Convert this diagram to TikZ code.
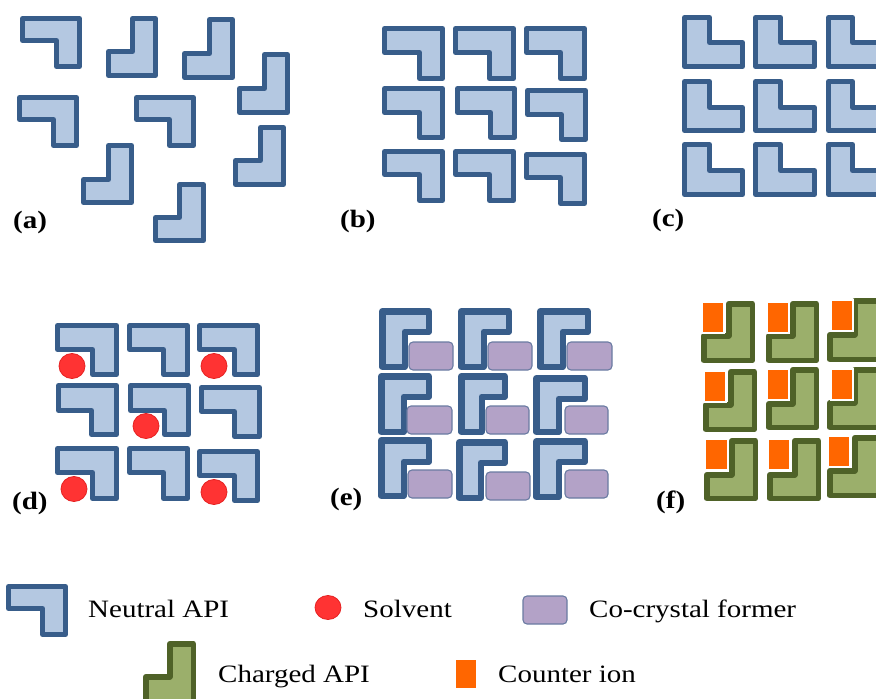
\documentclass[tikz,border=0pt]{standalone}
\usepackage{fontspec}
\setmainfont{Liberation Serif}[FakeStretch=1.16]

\definecolor{apiFill}{HTML}{B4C8E1}
\definecolor{apiLine}{HTML}{385D8A}
\definecolor{chgFill}{HTML}{9BAF6B}
\definecolor{chgLine}{HTML}{4F6228}
\definecolor{ccfFill}{HTML}{B3A2C7}
\definecolor{ccfLine}{HTML}{6A7BA2}
\definecolor{solvFill}{HTML}{FF3333}
\definecolor{solvLine}{HTML}{E52222}
\definecolor{ionFill}{HTML}{FF6600}

% Hook-shaped molecules given by their outer box (x1,y1)-(x2,y2) and the
% outer corner (xi,yi) of the notch; \hw is half the outline width.
% notch at bottom-left
\newcommand\hookN[7]{\filldraw[#1] ({#2+\hw},{#3+\hw}) -- ({#4-\hw},{#3+\hw}) -- ({#4-\hw},{#5-\hw}) -- ({#6+\hw},{#5-\hw}) -- ({#6+\hw},{#7-\hw}) -- ({#2+\hw},{#7-\hw}) -- cycle;}
% notch at top-left
\newcommand\hookJ[7]{\filldraw[#1] ({#6+\hw},{#3+\hw}) -- ({#4-\hw},{#3+\hw}) -- ({#4-\hw},{#5-\hw}) -- ({#2+\hw},{#5-\hw}) -- ({#2+\hw},{#7+\hw}) -- ({#6+\hw},{#7+\hw}) -- cycle;}
% notch at top-right
\newcommand\hookL[7]{\filldraw[#1] ({#2+\hw},{#3+\hw}) -- ({#6-\hw},{#3+\hw}) -- ({#6-\hw},{#7+\hw}) -- ({#4-\hw},{#7+\hw}) -- ({#4-\hw},{#5-\hw}) -- ({#2+\hw},{#5-\hw}) -- cycle;}
% notch at bottom-right
\newcommand\hookG[7]{\filldraw[#1] ({#2+\hw},{#3+\hw}) -- ({#4-\hw},{#3+\hw}) -- ({#4-\hw},{#7-\hw}) -- ({#6-\hw},{#7-\hw}) -- ({#6-\hw},{#5-\hw}) -- ({#2+\hw},{#5-\hw}) -- cycle;}

\tikzset{
  neutral/.style={fill=apiFill, draw=apiLine, line join=round},
  charged/.style={fill=chgFill, draw=chgLine, line join=round},
  former/.style={fill=ccfFill, draw=ccfLine, line width=1.1pt, rounded corners=4pt},
  solvent/.style={fill=solvFill, draw=solvLine, line width=0.8pt},
  counterion/.style={fill=ionFill, draw=white, line width=1.6pt},
  panellabel/.style={font=\fontsize{25}{30}\selectfont\bfseries, inner sep=0pt, anchor=base west},
  legendtext/.style={font=\fontsize{25}{30}\selectfont, inner sep=0pt, anchor=base west},
}

\begin{document}
\begin{tikzpicture}[x=1pt, y=-1pt]
\useasboundingbox (0,0) rectangle (876,699);
\clip (0,0) rectangle (876,699);

% (a) disordered neutral molecules
\begin{scope}[line width=5pt]
\def\hw{2.5}
\hookN{neutral}{20}{16}{82}{69}{54}{43}
\hookJ{neutral}{106}{16}{158}{78}{130}{49}
\hookJ{neutral}{182}{17}{235}{80}{207}{51}
\hookJ{neutral}{237}{52}{290}{115}{262}{86}
\hookN{neutral}{17}{95}{79}{148}{51}{122}
\hookN{neutral}{134}{95}{196}{148}{167}{122}
\hookJ{neutral}{81}{143}{134}{205}{106}{177}
\hookJ{neutral}{233}{125}{286}{187}{258}{158}
\hookJ{neutral}{153}{182}{206}{243}{177}{215}
\end{scope}
\node[panellabel] (la) at (13,228) {(a)};

% (b) crystal form I
\begin{scope}[line width=5pt]
\def\hw{2.5}
\hookN{neutral}{382}{26}{445}{81}{417}{55}
\hookN{neutral}{453}{26}{516}{81}{487}{55}
\hookN{neutral}{524}{26}{587}{81}{558}{55}
\hookN{neutral}{382}{86}{445}{140}{417}{115}
\hookN{neutral}{455}{86}{517}{140}{488}{115}
\hookN{neutral}{525}{88}{588}{142}{559}{117}
\hookN{neutral}{382}{149}{445}{203}{417}{177}
\hookN{neutral}{453}{149}{516}{203}{487}{177}
\hookN{neutral}{524}{152}{587}{206}{558}{180}
\end{scope}
\node[panellabel] (lb) at (340,227) {(b)};

% (c) crystal form II
\begin{scope}[line width=5pt]
\def\hw{2.5}
\foreach \ya/\yi/\yb in {15/40/69, 79/105/133, 142/168/197}{
  \foreach \xa/\xi/\xb in {682/712/745, 753/783/817, 826/855/889}{
    \hookL{neutral}{\xa}{\ya}{\xb}{\yb}{\xi}{\yi}
  }
}
\end{scope}
\node[panellabel] (lc) at (652,226) {(c)};

% (d) solvate
\begin{scope}[line width=5pt]
\def\hw{2.5}
\hookN{neutral}{55}{323}{119}{377}{90}{352}
\hookN{neutral}{127}{323}{190}{377}{161}{352}
\hookN{neutral}{197}{323}{260}{377}{232}{352}
\hookN{neutral}{56}{383}{119}{437}{89}{413}
\hookN{neutral}{128}{383}{191}{437}{162}{413}
\hookN{neutral}{199}{385}{262}{439}{232}{414}
\hookN{neutral}{55}{446}{119}{501}{90}{475}
\hookN{neutral}{127}{446}{190}{501}{161}{475}
\hookN{neutral}{197}{449}{260}{503}{232}{478}
\end{scope}
\foreach \cx/\cy in {72/366, 214/366, 146/426, 74/489, 214/492}
  \filldraw[solvent] (\cx,\cy) ellipse [x radius=13, y radius=12.5];
\node[panellabel] (ld) at (12,509) {(d)};

% (e) co-crystal
\begin{scope}[line width=6.5pt]
\def\hw{3.25}
\hookG{neutral}{379}{308}{432}{370}{408}{335}
\hookG{neutral}{458}{308}{512}{370}{487}{335}
\hookG{neutral}{537}{308}{591}{370}{566}{335}
\hookG{neutral}{378}{373}{432}{435}{407}{400}
\hookG{neutral}{458}{373}{508}{435}{485}{400}
\hookG{neutral}{533}{375}{588}{435}{562}{402}
\hookG{neutral}{378}{437}{432}{499}{407}{465}
\hookG{neutral}{456}{439}{508}{501}{484}{466}
\hookG{neutral}{533}{438}{588}{500}{562}{465}
\end{scope}
\foreach \xa/\ya/\xb/\yb in {409/342/453/370, 488/342/532/370, 567/342/612/370,
    407/406/452/434, 486/406/529/434, 565/406/608/434,
    408/470/452/498, 486/472/530/500, 565/470/608/498}
  \filldraw[former] (\xa,\ya) rectangle (\xb,\yb);
\node[panellabel] (le) at (330,505) {(e)};

% (f) salt
\begin{scope}[line width=5.5pt]
\def\hw{2.75}
\hookJ{charged}{701}{301}{755}{363}{726}{333}
\hookJ{charged}{766}{301}{819}{363}{790}{333}
\hookJ{charged}{827}{298}{890}{362}{852}{332}
\hookJ{charged}{703}{369}{757}{432}{728}{402}
\hookJ{charged}{766}{367}{819}{430}{790}{401}
\hookJ{charged}{827}{367}{890}{430}{852}{400}
\hookJ{charged}{704}{438}{758}{501}{729}{472}
\hookJ{charged}{767}{438}{821}{501}{792}{472}
\hookJ{charged}{827}{435}{890}{498}{852}{468}
\end{scope}
\foreach \xa/\ya/\xb/\yb in {702/302/724/333, 767/302/789/333, 831/300/853/331,
    704/371/726/402, 767/369/789/400, 831/369/853/400,
    705/439/728/470, 768/439/790/470, 828/436/850/467}
  \filldraw[counterion] (\xa,\ya) rectangle (\xb,\yb);
\node[panellabel] (lf) at (656,508) {(f)};

% legend
\begin{scope}[line width=5pt]
\def\hw{2.5}
\hookN{neutral}{6}{584}{68}{637}{40}{611}
\end{scope}
\begin{scope}[line width=5.5pt]
\def\hw{2.75}
\hookJ{charged}{143}{641}{196}{704}{167}{674}
\end{scope}
\filldraw[solvent] (328,607.5) ellipse [x radius=13, y radius=12];
\filldraw[former] (523,596) rectangle (567,624);
\fill[ionFill] (456,660) rectangle (476,688);

\node[legendtext] (tneutral) at (88,617) {Neutral API};
\node[legendtext] (tsolvent) at (363,617) {Solvent};
\node[legendtext] (tformer) at (589,617) {Co-crystal former};
\node[legendtext] (tcharged) at (218,682) {Charged API};
\node[legendtext] (tion) at (498,682) {Counter ion};
\end{tikzpicture}
\end{document}
